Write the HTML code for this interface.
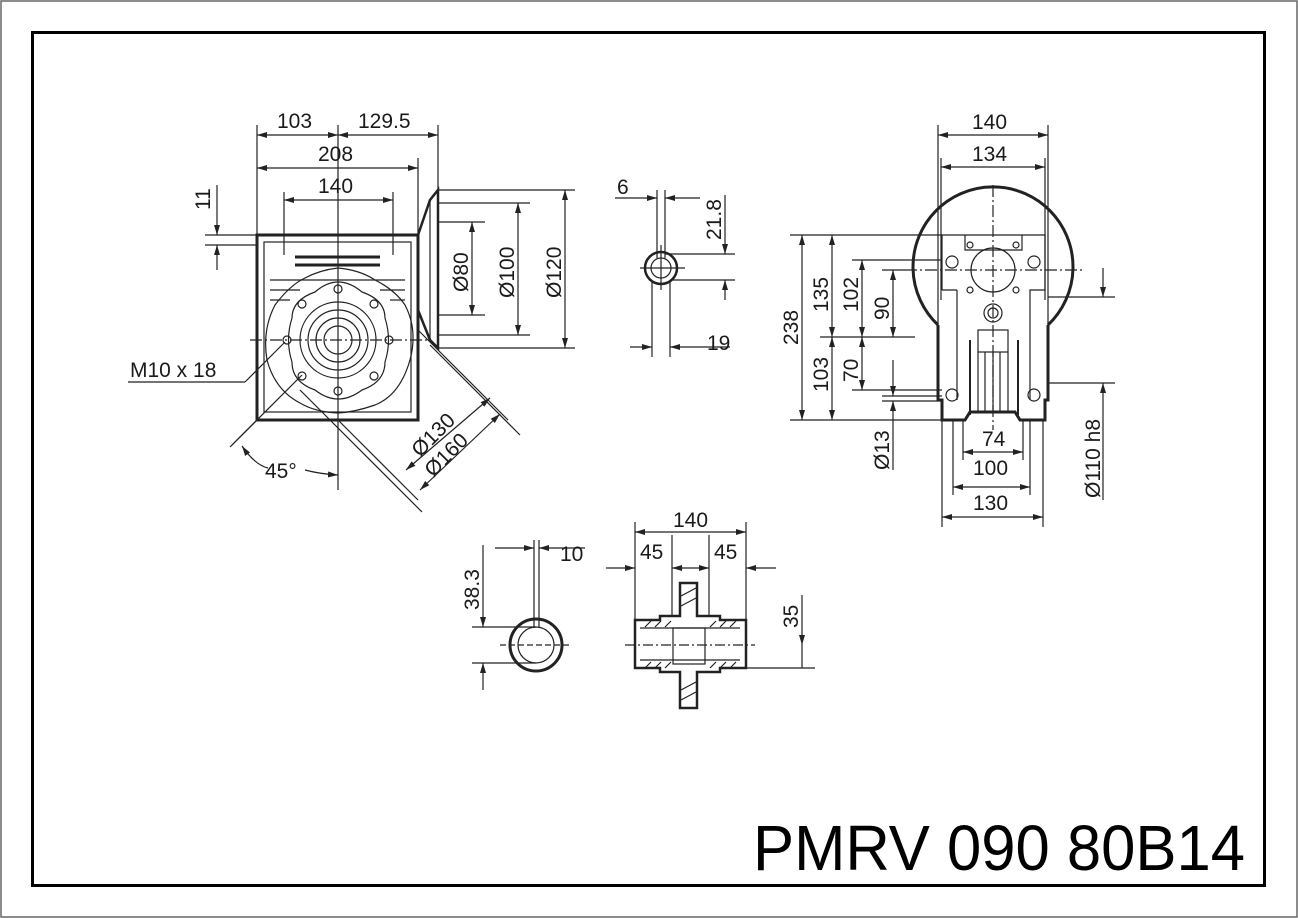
<!DOCTYPE html>
<html><head><meta charset="utf-8"><style>
html,body{margin:0;padding:0;background:#fff}
svg{display:block}
text{font-family:"Liberation Sans",sans-serif;font-size:21px;fill:#1a1a1a}
</style></head><body>
<svg width="1298" height="918" viewBox="0 0 1298 918" xmlns="http://www.w3.org/2000/svg">
<defs>
<marker id="a" viewBox="0 0 10 6" refX="10" refY="3" markerWidth="10" markerHeight="6" orient="auto-start-reverse" markerUnits="userSpaceOnUse"><path d="M0,0L10,3L0,6z" fill="#222"/></marker>
</defs>
<rect x="1" y="1" width="1296" height="916" fill="none" stroke="#666" stroke-width="1.5"/>
<rect x="32.5" y="32.5" width="1232" height="853" fill="none" stroke="#000" stroke-width="3"/>

<g stroke="#222" stroke-width="1.2" fill="none">
<!-- LEFT VIEW -->
<line x1="257" y1="125" x2="257" y2="235"/><line x1="338" y1="125" x2="338" y2="490"/>
<line x1="438" y1="125" x2="438" y2="190"/><line x1="418" y1="158" x2="418" y2="235"/>
<line x1="284" y1="192" x2="284" y2="255"/><line x1="393" y1="192" x2="393" y2="255"/>
<line x1="257" y1="135" x2="338" y2="135" marker-start="url(#a)" marker-end="url(#a)"/>
<line x1="338" y1="135" x2="438" y2="135" marker-start="url(#a)" marker-end="url(#a)"/>
<line x1="257" y1="168" x2="418" y2="168" marker-start="url(#a)" marker-end="url(#a)"/>
<line x1="284" y1="200" x2="393" y2="200" marker-start="url(#a)" marker-end="url(#a)"/>
<line x1="205" y1="235" x2="258" y2="235"/><line x1="205" y1="245" x2="258" y2="245"/>
<line x1="217" y1="185" x2="217" y2="235" marker-end="url(#a)"/><line x1="217" y1="270" x2="217" y2="245" marker-end="url(#a)"/>
<rect x="257" y="235" width="161" height="185" stroke-width="3"/>
<rect x="264" y="242" width="147" height="170"/>
<line x1="295" y1="257" x2="380" y2="257" stroke-width="3"/><line x1="295" y1="265" x2="380" y2="265" stroke-width="3"/>
<line x1="270" y1="280" x2="405" y2="280"/><line x1="270" y1="290" x2="300" y2="290"/><line x1="380" y1="290" x2="405" y2="290"/>
<line x1="270" y1="300" x2="290" y2="300"/><line x1="390" y1="300" x2="405" y2="300"/>
<path d="M305,278 Q320,270 338,268 Q360,270 375,280 Q395,290 405,305 Q418,330 410,360 Q400,395 375,405 Q355,412 338,413 Q315,412 300,403 Q275,390 267,360 Q262,330 275,305 Q290,285 305,278Z"/>
<path d="M315,292 Q338,272 362,292 Q385,300 385,318 Q392,340 385,362 Q385,382 362,390 Q338,408 315,390 Q292,382 292,362 Q285,340 292,318 Q292,300 315,292Z"/>
<circle cx="338" cy="340" r="38"/><circle cx="338" cy="340" r="30"/><circle cx="338" cy="340" r="22"/><circle cx="338" cy="340" r="14"/>
<circle cx="338" cy="289" r="4"/><circle cx="338" cy="391" r="4"/><circle cx="287" cy="340" r="4"/><circle cx="389" cy="340" r="4"/>
<circle cx="302" cy="304" r="4"/><circle cx="374" cy="304" r="4"/><circle cx="302" cy="376" r="4"/><circle cx="374" cy="376" r="4"/>
<line x1="250" y1="340" x2="430" y2="340" stroke-dasharray="12,3,2,3"/>
<path d="M418,235 L430,200 L438,190 L438,348 L430,340 L418,310" stroke-width="2.5"/>
<line x1="430" y1="200" x2="430" y2="340"/>
<line x1="438" y1="190" x2="575" y2="190"/><line x1="438" y1="348" x2="575" y2="348"/>
<line x1="438" y1="203" x2="530" y2="203"/><line x1="438" y1="335" x2="530" y2="335"/>
<line x1="438" y1="222" x2="485" y2="222"/><line x1="438" y1="315" x2="485" y2="315"/>
<line x1="565" y1="190" x2="565" y2="348" marker-start="url(#a)" marker-end="url(#a)"/>
<line x1="518" y1="203" x2="518" y2="335" marker-start="url(#a)" marker-end="url(#a)"/>
<line x1="472" y1="222" x2="472" y2="315" marker-start="url(#a)" marker-end="url(#a)"/>
<line x1="257" y1="420" x2="230" y2="447"/><line x1="232" y1="445" x2="302" y2="375"/>
<line x1="418" y1="330" x2="508" y2="420"/><line x1="338" y1="420" x2="418" y2="500"/>
<line x1="300" y1="390" x2="422" y2="512"/><line x1="430" y1="345" x2="520" y2="435"/>
<line x1="406" y1="470" x2="490" y2="398" marker-start="url(#a)" marker-end="url(#a)"/>
<line x1="420" y1="490" x2="500" y2="414" marker-start="url(#a)" marker-end="url(#a)"/>
<path d="M242,446 Q255,465 268,468" marker-start="url(#a)"/>
<path d="M305,470 Q320,474 338,475" marker-end="url(#a)"/>
<line x1="128" y1="382" x2="245" y2="382"/><line x1="245" y1="382" x2="285" y2="342"/>

<!-- SHAFT 6 VIEW -->
<circle cx="661" cy="268" r="16" stroke-width="2.5"/><circle cx="661" cy="268" r="10"/>
<line x1="657" y1="190" x2="657" y2="258"/><line x1="665" y1="190" x2="665" y2="258"/>
<line x1="615" y1="198" x2="657" y2="198" marker-end="url(#a)"/><line x1="700" y1="198" x2="665" y2="198" marker-end="url(#a)"/>
<line x1="640" y1="268" x2="685" y2="268"/><line x1="661" y1="245" x2="661" y2="290"/>
<line x1="665" y1="254" x2="735" y2="254"/><line x1="670" y1="280" x2="735" y2="280"/>
<line x1="725" y1="195" x2="725" y2="254" marker-end="url(#a)"/><line x1="725" y1="300" x2="725" y2="280" marker-end="url(#a)"/>
<line x1="652" y1="280" x2="652" y2="357"/><line x1="670" y1="280" x2="670" y2="357"/>
<line x1="630" y1="347" x2="652" y2="347" marker-end="url(#a)"/><line x1="730" y1="347" x2="670" y2="347" marker-end="url(#a)"/>

<!-- RIGHT VIEW -->
<line x1="938" y1="125" x2="938" y2="330"/><line x1="1048" y1="125" x2="1048" y2="330"/>
<line x1="941" y1="158" x2="941" y2="300"/><line x1="1045" y1="158" x2="1045" y2="300"/>
<line x1="938" y1="135" x2="1048" y2="135" marker-start="url(#a)" marker-end="url(#a)"/>
<line x1="941" y1="167" x2="1045" y2="167" marker-start="url(#a)" marker-end="url(#a)"/>
<path d="M938,325 A80,80 0 1 1 1048,325" stroke-width="3"/>
<path d="M938,325 L938,400 L942,400 L942,420 L965,420 L970,412 L1015,412 L1020,420 L1045,420 L1045,400 L1048,400 L1048,325" stroke-width="3"/>
<line x1="993" y1="185" x2="993" y2="430" stroke-dasharray="12,3,2,3"/>
<path d="M942,290 L942,235 L1045,235 L1045,290 L1030,290 L1030,400 M957,290 L957,400 M942,290 L957,290"/>
<path d="M965,235 L965,250 L1022,250 L1022,235"/>
<circle cx="993" cy="270" r="22"/><circle cx="952" cy="262" r="6"/><circle cx="1034" cy="262" r="6"/>
<circle cx="970" cy="245" r="3"/><circle cx="1016" cy="245" r="3"/><circle cx="970" cy="290" r="3"/><circle cx="1016" cy="290" r="3"/>
<circle cx="993" cy="313" r="9"/><circle cx="993" cy="313" r="5"/>
<rect x="978" y="330" width="30" height="22"/>
<line x1="970" y1="340" x2="970" y2="415" stroke-width="2"/><line x1="1018" y1="340" x2="1018" y2="415" stroke-width="2"/>
<line x1="978" y1="352" x2="978" y2="412"/><line x1="985" y1="352" x2="985" y2="412"/><line x1="993" y1="352" x2="993" y2="412"/><line x1="1000" y1="352" x2="1000" y2="412"/><line x1="1008" y1="352" x2="1008" y2="412"/>
<circle cx="952" cy="395" r="6"/><circle cx="1034" cy="395" r="6"/>
<line x1="905" y1="270" x2="1085" y2="270" stroke-dasharray="12,3,2,3"/>
<line x1="790" y1="235" x2="942" y2="235"/><line x1="790" y1="420" x2="942" y2="420"/>
<line x1="820" y1="337" x2="915" y2="337"/><line x1="852" y1="260" x2="942" y2="260"/><line x1="882" y1="270" x2="905" y2="270"/>
<line x1="852" y1="390" x2="942" y2="390"/><line x1="882" y1="396" x2="942" y2="396"/><line x1="882" y1="401" x2="942" y2="401"/>
<line x1="802" y1="235" x2="802" y2="420" marker-start="url(#a)" marker-end="url(#a)"/>
<line x1="832" y1="235" x2="832" y2="337" marker-start="url(#a)" marker-end="url(#a)"/>
<line x1="832" y1="337" x2="832" y2="420" marker-start="url(#a)" marker-end="url(#a)"/>
<line x1="862" y1="260" x2="862" y2="337" marker-start="url(#a)" marker-end="url(#a)"/>
<line x1="862" y1="337" x2="862" y2="390" marker-start="url(#a)" marker-end="url(#a)"/>
<line x1="893" y1="270" x2="893" y2="337" marker-start="url(#a)" marker-end="url(#a)"/>
<line x1="893" y1="360" x2="893" y2="396" marker-end="url(#a)"/><line x1="893" y1="470" x2="893" y2="401" marker-end="url(#a)"/>
<line x1="963" y1="420" x2="963" y2="460"/><line x1="1023" y1="420" x2="1023" y2="460"/>
<line x1="953" y1="420" x2="953" y2="495"/><line x1="1030" y1="420" x2="1030" y2="495"/>
<line x1="942" y1="420" x2="942" y2="527"/><line x1="1043" y1="420" x2="1043" y2="527"/>
<line x1="963" y1="452" x2="1023" y2="452" marker-start="url(#a)" marker-end="url(#a)"/>
<line x1="953" y1="487" x2="1030" y2="487" marker-start="url(#a)" marker-end="url(#a)"/>
<line x1="942" y1="517" x2="1043" y2="517" marker-start="url(#a)" marker-end="url(#a)"/>
<line x1="1048" y1="297" x2="1115" y2="297"/><line x1="1048" y1="383" x2="1115" y2="383"/>
<line x1="1103" y1="268" x2="1103" y2="297" marker-end="url(#a)"/><line x1="1103" y1="500" x2="1103" y2="383" marker-end="url(#a)"/>

<!-- BOTTOM LEFT CIRCLE -->
<circle cx="536" cy="645" r="26" stroke-width="3"/><circle cx="536" cy="645" r="18"/>
<line x1="534" y1="540" x2="534" y2="628"/><line x1="539" y1="540" x2="539" y2="628"/>
<line x1="495" y1="548" x2="534" y2="548" marker-end="url(#a)"/><line x1="585" y1="548" x2="539" y2="548" marker-end="url(#a)"/>
<line x1="472" y1="627" x2="536" y2="627"/><line x1="472" y1="663" x2="536" y2="663"/>
<line x1="500" y1="645" x2="570" y2="645" stroke-dasharray="6,3"/>
<line x1="483" y1="545" x2="483" y2="627" marker-end="url(#a)"/><line x1="483" y1="690" x2="483" y2="663" marker-end="url(#a)"/>

<!-- HUB -->
<path d="M635,620 L660,620 L660,616 L680,616 L680,583 L697,583 L697,616 L720,616 L720,620 L746,620 L746,668 L720,668 L720,672 L697,672 L697,708 L680,708 L680,672 L660,672 L660,668 L635,668 Z" stroke-width="2.5"/>
<rect x="673" y="628" width="32" height="36"/>
<line x1="640" y1="628" x2="740" y2="628"/><line x1="640" y1="660" x2="740" y2="660"/>
<path d="M645,627 L651,621 M655,627 L661,621 M665,627 L671,621 M710,627 L716,621 M720,627 L726,621 M730,627 L736,621 M645,668 L651,662 M655,668 L661,662 M665,668 L671,662 M710,668 L716,662 M720,668 L726,662 M730,668 L736,662 M681,596 L696,588 M681,606 L696,598 M681,700 L696,692 M681,690 L696,682"/>
<line x1="625" y1="645" x2="755" y2="645" stroke-dasharray="10,3,2,3"/>
<line x1="635" y1="522" x2="635" y2="620"/><line x1="746" y1="522" x2="746" y2="620"/>
<line x1="672" y1="535" x2="672" y2="616"/><line x1="709" y1="535" x2="709" y2="616"/>
<line x1="635" y1="532" x2="746" y2="532" marker-start="url(#a)" marker-end="url(#a)"/>
<line x1="606" y1="568" x2="635" y2="568" marker-end="url(#a)"/><line x1="672" y1="568" x2="690" y2="568" marker-start="url(#a)"/>
<line x1="690" y1="568" x2="709" y2="568" marker-end="url(#a)"/><line x1="776" y1="568" x2="746" y2="568" marker-end="url(#a)"/>
<line x1="746" y1="668" x2="815" y2="668"/>
<line x1="802" y1="595" x2="802" y2="645" marker-end="url(#a)"/><line x1="802" y1="645" x2="802" y2="668"/>
</g>

<!-- TEXT -->
<text x="277" y="128">103</text><text x="358" y="128">129.5</text>
<text x="318" y="161">208</text><text x="318" y="193">140</text>
<text transform="translate(210,210) rotate(-90)">11</text>
<text transform="translate(468,292) rotate(-90)">Ø80</text>
<text transform="translate(514,298) rotate(-90)">Ø100</text>
<text transform="translate(561,298) rotate(-90)">Ø120</text>
<text x="130" y="377">M10 x 18</text>
<text x="265" y="478">45°</text>
<text transform="translate(420,458) rotate(-45)">Ø130</text>
<text transform="translate(433,478) rotate(-45)">Ø160</text>
<text x="617" y="194">6</text>
<text transform="translate(721,240) rotate(-90)">21.8</text>
<text x="707" y="350">19</text>
<text x="972" y="129">140</text><text x="972" y="161">134</text>
<text transform="translate(798,345) rotate(-90)">238</text>
<text transform="translate(828,312) rotate(-90)">135</text>
<text transform="translate(828,392) rotate(-90)">103</text>
<text transform="translate(858,312) rotate(-90)">102</text>
<text transform="translate(858,382) rotate(-90)">70</text>
<text transform="translate(889,320) rotate(-90)">90</text>
<text transform="translate(889,470) rotate(-90)">Ø13</text>
<text x="982" y="446">74</text><text x="973" y="475">100</text><text x="973" y="510">130</text>
<text transform="translate(1100,498) rotate(-90)">Ø110 h8</text>
<text transform="translate(479,610) rotate(-90)">38.3</text>
<text x="560" y="561">10</text>
<text x="673" y="527">140</text><text x="640" y="559">45</text><text x="714" y="559">45</text>
<text transform="translate(798,628) rotate(-90)">35</text>
<text x="753" y="870" style="font-size:64px;fill:#000" textLength="492" lengthAdjust="spacingAndGlyphs">PMRV 090 80B14</text>
</svg>
</body></html>
